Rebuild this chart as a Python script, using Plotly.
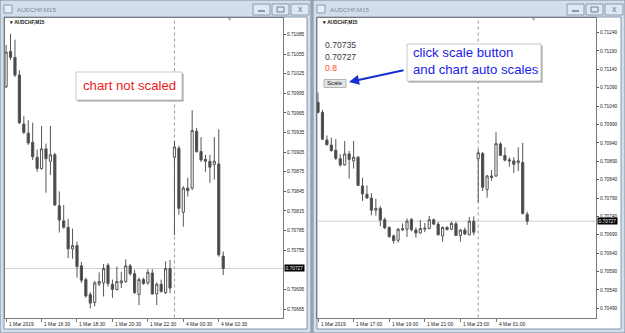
import plotly.graph_objects as go

W, H = 625, 333

# ---------------- data (AUDCHF M15, 1 Mar 14:30 -> 4 Mar 02:45) ----------------
bar_index = list(range(50))
opens = [0.71005, 0.71059, 0.71050, 0.71023, 0.70948, 0.70934, 0.70920, 0.70897, 0.70880, 0.70910,
         0.70891, 0.70901, 0.70823, 0.70800, 0.70790, 0.70757, 0.70762, 0.70731, 0.70710, 0.70687,
         0.70675, 0.70703, 0.70705, 0.70732, 0.70703, 0.70695, 0.70705, 0.70707, 0.70731, 0.70719,
         0.70687, 0.70710, 0.70705, 0.70720, 0.70688, 0.70703, 0.70690, 0.70727, 0.70897, 0.70911,
         0.70813, 0.70850, 0.70850, 0.70937, 0.70906, 0.70894, 0.70891, 0.70886, 0.70887, 0.70746]
highs = [0.71069, 0.71086, 0.71077, 0.71030, 0.70960, 0.70954, 0.70950, 0.70909, 0.70945, 0.70918,
         0.70945, 0.70904, 0.70845, 0.70824, 0.70803, 0.70788, 0.70768, 0.70737, 0.70713, 0.70691,
         0.70708, 0.70721, 0.70734, 0.70735, 0.70710, 0.70730, 0.70722, 0.70741, 0.70734, 0.70725,
         0.70713, 0.70713, 0.70726, 0.70726, 0.70706, 0.70710, 0.70738, 0.70740, 0.70922, 0.70915,
         0.70853, 0.70866, 0.70969, 0.70942, 0.70928, 0.70901, 0.70901, 0.70928, 0.70940, 0.70753]
lows = [0.71003, 0.71046, 0.71020, 0.70948, 0.70933, 0.70916, 0.70893, 0.70875, 0.70878, 0.70843,
        0.70870, 0.70823, 0.70782, 0.70788, 0.70743, 0.70742, 0.70713, 0.70705, 0.70682, 0.70666,
        0.70669, 0.70700, 0.70684, 0.70699, 0.70682, 0.70693, 0.70697, 0.70705, 0.70716, 0.70688,
        0.70671, 0.70702, 0.70702, 0.70687, 0.70671, 0.70690, 0.70688, 0.70689, 0.70778, 0.70809,
        0.70791, 0.70837, 0.70847, 0.70904, 0.70890, 0.70875, 0.70858, 0.70863, 0.70745, 0.70717]
closes = [0.71058, 0.71050, 0.71023, 0.70950, 0.70935, 0.70919, 0.70898, 0.70880, 0.70910, 0.70895,
          0.70901, 0.70824, 0.70801, 0.70790, 0.70757, 0.70762, 0.70730, 0.70709, 0.70685, 0.70674,
          0.70705, 0.70707, 0.70727, 0.70704, 0.70695, 0.70707, 0.70708, 0.70731, 0.70719, 0.70690,
          0.70710, 0.70704, 0.70721, 0.70688, 0.70703, 0.70692, 0.70727, 0.70697, 0.70913, 0.70819,
          0.70850, 0.70846, 0.70938, 0.70906, 0.70893, 0.70891, 0.70882, 0.70891, 0.70748, 0.70727]

current_price = 0.70727
separator_index = 38
shift_marker_index = 50.5

left_time_idx = [0, 8, 16, 24, 32, 40, 48]
left_time_labels = ["1 Mar 2019", "1 Mar 16:30", "1 Mar 18:30", "1 Mar 20:30",
                    "1 Mar 22:30", "4 Mar 00:30", "4 Mar 02:30"]
right_time_idx = [2, 10, 18, 26, 34, 42]
right_time_labels = ["1 Mar 2019", "1 Mar 17:00", "1 Mar 19:00", "1 Mar 21:00",
                     "1 Mar 23:00", "4 Mar 01:00"]

left_price_ticks = [0.71085, 0.71055, 0.71025, 0.70995, 0.70965, 0.70935, 0.70905, 0.70875,
                    0.70845, 0.70815, 0.70785, 0.70755, 0.70695, 0.70665]
right_price_ticks = [0.71240, 0.71190, 0.71140, 0.71090, 0.71040, 0.70990, 0.70940, 0.70890,
                     0.70840, 0.70790, 0.70740, 0.70690, 0.70640, 0.70590, 0.70540, 0.70490]

info_values = ["0.70735", "0.70727"]
info_ratio = "0.8"

# ---------------- helpers ----------------
def X(p):
    return p / W

def Y(p):
    return 1 - p / H

LINE = "#555555"
BEAR = "#444444"
FONT = "Liberation Sans"
TICKF = dict(family=FONT, size=4.8, color="#222")

fig = go.Figure()
for xa, ya in (("x", "y"), ("x2", "y2")):
    fig.add_trace(go.Candlestick(
        x=bar_index, open=opens, high=highs, low=lows, close=closes,
        xaxis=xa, yaxis=ya, whiskerwidth=0, hoverinfo="skip", showlegend=False,
        increasing=dict(line=dict(color=LINE, width=1), fillcolor="white"),
        decreasing=dict(line=dict(color=LINE, width=1), fillcolor=BEAR),
    ))

ydom = [Y(317.5), Y(17.5)]
common_x = dict(showgrid=False, zeroline=False, showline=True, mirror=True, linecolor="#7a7a7a",
                linewidth=1, ticks="outside", ticklen=3, tickcolor="#7a7a7a",
                showticklabels=False, rangeslider=dict(visible=False), fixedrange=True)
common_y = dict(showgrid=False, zeroline=False, showline=True, mirror=True, linecolor="#7a7a7a",
                linewidth=1, ticks="outside", ticklen=2, tickcolor="#555", side="right",
                tickformat=".5f", tickfont=TICKF, fixedrange=True)

fig.update_layout(
    width=W, height=H, margin=dict(l=0, r=0, t=0, b=0),
    paper_bgcolor="#aab6c5", plot_bgcolor="white", showlegend=False,
    boxgap=0.3,
    xaxis=dict(domain=[X(5), X(283)], range=[-0.25, 62.5], tickvals=left_time_idx,
               anchor="y", **common_x),
    yaxis=dict(domain=ydom, range=[0.70652, 0.71111], tickvals=left_price_ticks,
               anchor="x", **common_y),
    xaxis2=dict(domain=[X(317), X(596)], range=[1.775, 64.47], tickvals=right_time_idx,
                anchor="y2", **common_x),
    yaxis2=dict(domain=ydom, range=[0.70465, 0.71281], tickvals=right_price_ticks,
                anchor="x2", **common_y),
)

shapes = []
ann = []


def text(t, x, y, size, color, xanchor="center", bold=False, xref="paper", yref="paper", **kw):
    ann.append(dict(text=("<b>%s</b>" % t) if bold else t, xref=xref, yref=yref, x=x, y=y,
                    xanchor=xanchor, yanchor="middle", showarrow=False,
                    font=dict(family=FONT, size=size, color=color), **kw))


# window chrome
for x0, x1 in ((0, 311), (313, 625)):
    shapes.append(dict(type="rect", xref="paper", yref="paper", x0=X(x0), x1=X(x1), y0=Y(333), y1=Y(0),
                       fillcolor="#d3deea", line=dict(color="#7d8ca0", width=1), layer="below"))
    shapes.append(dict(type="rect", xref="paper", yref="paper", x0=X(x0 + 4), x1=X(x1 - 4), y0=Y(329), y1=Y(17),
                       fillcolor="white", line=dict(color="#8796aa", width=1), layer="below"))
    # icon
    shapes.append(dict(type="rect", xref="paper", yref="paper", x0=X(x0 + 4), x1=X(x0 + 12), y0=Y(13), y1=Y(5),
                       fillcolor="#e8eef5", line=dict(color="#7f9cc0", width=1), layer="below"))
    # buttons
    for bx0, bx1 in ((x1 - 58, x1 - 41), (x1 - 39, x1 - 22), (x1 - 20, x1 - 2)):
        shapes.append(dict(type="rect", xref="paper", yref="paper", x0=X(bx0), x1=X(bx1), y0=Y(15), y1=Y(4),
                           fillcolor="#dfe7f0", line=dict(color="#8a9bb1", width=1), layer="below"))
    shapes.append(dict(type="line", xref="paper", yref="paper", x0=X(x1 - 53), x1=X(x1 - 46), y0=Y(11), y1=Y(11),
                       line=dict(color="#6b7c92", width=1.5)))
    shapes.append(dict(type="rect", xref="paper", yref="paper", x0=X(x1 - 34), x1=X(x1 - 27), y0=Y(12), y1=Y(7),
                       line=dict(color="#6b7c92", width=1)))
    text("x", X(x1 - 11), Y(9), 9, "#6b7c92")
    text("AUDCHF,M15", X(x0 + 15), Y(10), 6.2, "#7a8ba2", xanchor="left")
    text("▾ AUDCHF,M15", X(x0 + 7), Y(22.5), 4.8, "#111", xanchor="left", bold=True)

# separators, price lines, shift markers, highlight labels, time labels
for xr, yr, xstart, tick_idx, tick_lab in (("x", "y", 284, left_time_idx, left_time_labels),
                                           ("x2", "y2", 597, right_time_idx, right_time_labels)):
    shapes.append(dict(type="line", xref=xr, yref=yr + " domain", x0=separator_index, x1=separator_index,
                       y0=0, y1=1, line=dict(color="#9a9a9a", width=1, dash="dot"), layer="below"))
    shapes.append(dict(type="line", xref=xr + " domain", yref=yr, x0=0, x1=1, y0=current_price,
                       y1=current_price, line=dict(color="#d2d2d2", width=1), layer="below"))
    text("0.70727", X(xstart), current_price, 4.8, "white", xanchor="left", yref=yr,
         bgcolor="black", borderpad=0.6)
    text("▼", shift_marker_index, Y(19.5), 5, "#a0a0a0", xref=xr)
    for i, lab in zip(tick_idx, tick_lab):
        text(lab, i, Y(324), 4.9, "#222", xanchor="left", xref=xr, xshift=0.5)

# callout boxes
for bx0, bx1, by0, by1 in ((76, 182, 72, 100), (407, 541, 44, 81)):
    shapes.append(dict(type="rect", xref="paper", yref="paper", x0=X(bx0 + 1.5), x1=X(bx1 + 1.5),
                       y0=Y(by1 + 1.5), y1=Y(by0 + 1.5), fillcolor="#9a9a9a", line=dict(width=0)))
    shapes.append(dict(type="rect", xref="paper", yref="paper", x0=X(bx0), x1=X(bx1), y0=Y(by1), y1=Y(by0),
                       fillcolor="white", line=dict(color="#c8c8c8", width=1)))

text("chart not scaled", X(129), Y(86), 13.2, "#f01818")
text("click scale button", X(411), Y(52), 13.2, "#1a1ae6", xanchor="left")
text("and chart auto scales", X(411), Y(69.5), 13.2, "#1a1ae6", xanchor="left")
ann.append(dict(text="", xref="paper", yref="paper", x=X(349), y=Y(82), ax=56, ay=-12, showarrow=True,
                arrowhead=2, arrowsize=1, arrowwidth=2, arrowcolor="#1530d0"))

# indicator info on the right chart
for k, v in enumerate(info_values):
    text(v, X(323), Y(45 + 11.5 * k), 8.6, "#3a3a3a", xanchor="left")
text(info_ratio, X(323), Y(68), 8.6, "#ff4a26", xanchor="left")
shapes.append(dict(type="rect", xref="paper", yref="paper", x0=X(324), x1=X(346), y0=Y(87.5), y1=Y(79.5),
                   fillcolor="#e4e4e4", line=dict(color="#b5b5b5", width=1)))
text("Scale", X(335), Y(83.5), 6, "#222")

fig.update_layout(shapes=shapes, annotations=ann)
fig.write_html("out.html")
